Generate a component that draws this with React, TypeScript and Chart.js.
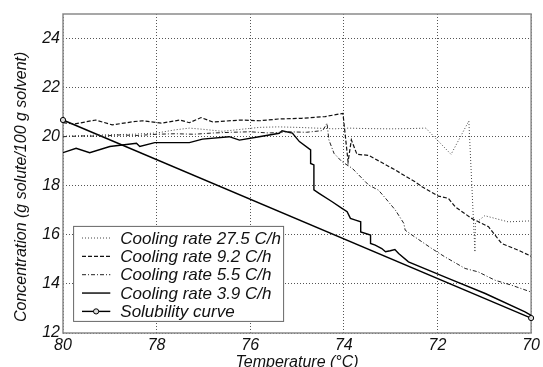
import React, { useEffect, useRef } from 'react';
import { Chart, registerables } from 'chart.js';

Chart.register(...registerables);

const FONT = '"Liberation Sans", Arial, Helvetica, sans-serif';

// Cooling rate 27.5 C/h (dotted)
const temp275 = [80, 79.5, 79, 78.5, 78.0, 77.6, 77.3, 77.0, 76.6, 76.2, 75.8, 75.4, 75.0, 74.6, 74.2, 73.9, 73.5, 73.0, 72.6, 72.25, 71.71, 71.33, 71.2, 71.19, 70.99, 70.49, 70.0];
const conc275 = [20.02, 20.05, 20.08, 20.1, 20.15, 20.28, 20.35, 20.3, 20.22, 20.3, 20.38, 20.4, 20.38, 20.35, 20.32, 20.35, 20.33, 20.32, 20.33, 20.35, 19.28, 20.64, 15.3, 16.48, 16.78, 16.53, 16.57];

// Cooling rate 9.2 C/h (dashed)
const temp92 = [80, 79.75, 79.3, 78.95, 78.5, 78.3, 77.9, 77.5, 77.3, 77.05, 76.8, 76.2, 75.8, 75.4, 74.9, 74.4, 74.02, 73.91, 73.84, 73.72, 73.47, 72.9, 72.48, 72.33, 71.98, 71.77, 71.62, 71.27, 70.91, 70.63, 70.28, 70.0];
const conc92 = [20.57, 20.52, 20.68, 20.48, 20.61, 20.65, 20.55, 20.68, 20.57, 20.78, 20.6, 20.68, 20.65, 20.72, 20.75, 20.82, 20.95, 18.98, 19.87, 19.28, 19.24, 18.64, 18.16, 17.96, 17.58, 17.49, 17.14, 16.67, 16.33, 15.65, 15.38, 15.13];

// Cooling rate 5.5 C/h (dash-dot)
const temp55 = [80, 79.6, 79.2, 78.8, 78.4, 78.0, 77.6, 77.2, 76.8, 76.4, 76.0, 75.6, 75.2, 74.8, 74.45, 74.36, 74.32, 74.21, 74.04, 73.82, 73.61, 73.47, 73.26, 73.11, 72.9, 72.72, 72.69, 72.55, 72.12, 71.84, 71.41, 71.13, 70.77, 70.42, 70.0];
const conc55 = [20.0, 20.03, 20.02, 20.07, 20.05, 20.1, 20.12, 20.1, 20.15, 20.18, 20.2, 20.15, 20.2, 20.18, 20.25, 20.55, 19.87, 19.32, 18.98, 18.71, 18.3, 18.03, 17.82, 17.49, 17.01, 16.47, 16.19, 16.0, 15.44, 15.1, 14.63, 14.49, 14.15, 13.95, 13.67];

// Cooling rate 3.9 C/h (solid)
const temp39 = [80, 79.72, 79.43, 79.0, 78.43, 78.36, 78.04, 77.3, 77.02, 76.45, 76.23, 75.81, 75.38, 75.32, 75.1, 74.95, 74.71, 74.71, 74.64, 74.64, 74.53, 74.25, 74.04, 73.93, 73.86, 73.75, 73.64, 73.64, 73.43, 73.43, 73.33, 73.19, 73.11, 73.01, 72.91, 72.83, 72.62, 71.77, 70.98, 70.13, 70.0];
const conc39 = [19.35, 19.53, 19.35, 19.6, 19.73, 19.6, 19.76, 19.76, 19.9, 20.0, 19.86, 20.0, 20.14, 20.24, 20.15, 19.8, 19.46, 18.91, 18.85, 17.83, 17.69, 17.35, 17.08, 16.94, 16.67, 16.6, 16.53, 16.12, 15.99, 15.65, 15.58, 15.44, 15.31, 15.35, 15.4, 15.24, 14.9, 14.23, 13.61, 12.86, 12.72];

// Solubility curve
const tempSol = [80, 70];
const concSol = [20.68, 12.61];

const seriesLabels = [
  'Cooling rate 27.5 C/h',
  'Cooling rate 9.2 C/h',
  'Cooling rate 5.5 C/h',
  'Cooling rate 3.9 C/h',
  'Solubility curve',
];

const xTicks = [80, 78, 76, 74, 72, 70];
const yTicks = [12, 14, 16, 18, 20, 22, 24];

const toPoints = (xs: number[], ys: number[]) => xs.map((x, i) => ({ x, y: ys[i] }));

export default function App() {
  const ref = useRef<HTMLCanvasElement>(null);

  useEffect(() => {
    document.body.style.margin = '0';
    const canvas = ref.current;
    if (!canvas) return;

    const styles = [
      { color: '#444', dash: [1, 2], width: 1 },
      { color: '#111', dash: [4, 2], width: 1.2 },
      { color: '#222', dash: [4, 2, 1, 2], width: 1 },
      { color: '#000', dash: [], width: 1.4 },
      { color: '#000', dash: [], width: 1.4 },
    ];

    const frame = {
      id: 'frame',
      beforeDatasetsDraw(chart: any) {
        const { ctx, chartArea: a } = chart;
        ctx.save();
        ctx.strokeStyle = '#8a8a8a';
        ctx.lineWidth = 1.5;
        ctx.setLineDash([]);
        ctx.strokeRect(a.left, a.top, a.right - a.left, a.bottom - a.top);
        ctx.restore();
      },
      afterDraw(chart: any) {
        const { ctx, chartArea: a } = chart;
        const bx = a.left + 10.6;
        const by = a.top + 212.4;
        const bw = 210;
        const bh = 95;
        ctx.save();
        ctx.fillStyle = '#fff';
        ctx.fillRect(bx, by, bw, bh);
        ctx.strokeStyle = '#666';
        ctx.lineWidth = 1;
        ctx.strokeRect(bx, by, bw, bh);
        ctx.font = `italic 17px ${FONT}`;
        ctx.textBaseline = 'middle';
        ctx.textAlign = 'left';
        seriesLabels.forEach((label, i) => {
          const y = by + 11.6 + i * 18.35;
          const st = styles[i];
          ctx.beginPath();
          ctx.strokeStyle = st.color;
          ctx.lineWidth = st.width;
          ctx.setLineDash(st.dash);
          ctx.moveTo(bx + 8.4, y);
          ctx.lineTo(bx + 36.7, y);
          ctx.stroke();
          ctx.setLineDash([]);
          if (i === 4) {
            ctx.beginPath();
            ctx.arc(bx + 22.5, y, 2.6, 0, Math.PI * 2);
            ctx.fillStyle = '#ddd';
            ctx.fill();
            ctx.lineWidth = 1;
            ctx.strokeStyle = '#000';
            ctx.stroke();
          }
          ctx.fillStyle = '#111';
          ctx.fillText(label, bx + 46.7, y + 1);
        });
        ctx.restore();
      },
    };

    const series = [
      toPoints(temp275, conc275),
      toPoints(temp92, conc92),
      toPoints(temp55, conc55),
      toPoints(temp39, conc39),
      toPoints(tempSol, concSol),
    ];

    const tickFont = { family: FONT, size: 16, style: 'italic' as const };

    const chart = new Chart(canvas, {
      type: 'line',
      data: {
        datasets: series.map((data, i) => ({
          label: seriesLabels[i],
          data,
          borderColor: styles[i].color,
          borderWidth: styles[i].width,
          borderDash: styles[i].dash,
          pointRadius: i === 4 ? 2.6 : 0,
          pointBackgroundColor: '#ddd',
          pointBorderColor: '#000',
          pointBorderWidth: 1,
          fill: false,
          tension: 0,
          clip: i === 4 ? false : undefined,
        })) as any,
      },
      options: {
        animation: false,
        responsive: false,
        maintainAspectRatio: false,
        layout: { padding: { top: 14, right: 10, left: 0, bottom: 0 } },
        plugins: { legend: { display: false }, tooltip: { enabled: false } },
        scales: {
          x: {
            type: 'linear',
            reverse: true,
            min: 70,
            max: 80,
            afterBuildTicks: (s: any) => {
              s.ticks = xTicks.map((v) => ({ value: v }));
            },
            afterFit: (s: any) => {
              s.height = 34;
            },
            grid: { color: '#555', lineWidth: 1, drawTicks: false },
            border: { display: false, dash: [1, 2] },
            ticks: { font: tickFont, color: '#111', padding: 3, maxRotation: 0, autoSkip: false },
            title: {
              display: true,
              text: 'Temperature (°C)',
              font: { family: FONT, size: 16, style: 'italic' },
              color: '#111',
              padding: { top: 0, bottom: -5 },
            },
          },
          y: {
            type: 'linear',
            min: 12,
            max: 25,
            afterBuildTicks: (s: any) => {
              s.ticks = yTicks.map((v) => ({ value: v }));
            },
            afterFit: (s: any) => {
              s.width = 63;
            },
            grid: { color: '#555', lineWidth: 1, drawTicks: false },
            border: { display: false, dash: [1, 2] },
            ticks: { font: tickFont, color: '#111', padding: 3, autoSkip: false },
            title: {
              display: true,
              text: 'Concentration (g solute/100 g solvent)      ',
              font: { family: FONT, size: 16, style: 'italic' },
              color: '#111',
              padding: { top: 12, bottom: 0 },
            },
          },
        },
      },
      plugins: [frame],
    });

    return () => chart.destroy();
  }, []);

  return (
    <div style={{ position: 'absolute', left: 0, top: 0, width: 543, height: 367, background: '#fff' }}>
      <canvas ref={ref} width={543} height={367} style={{ display: 'block' }} />
    </div>
  );
}
